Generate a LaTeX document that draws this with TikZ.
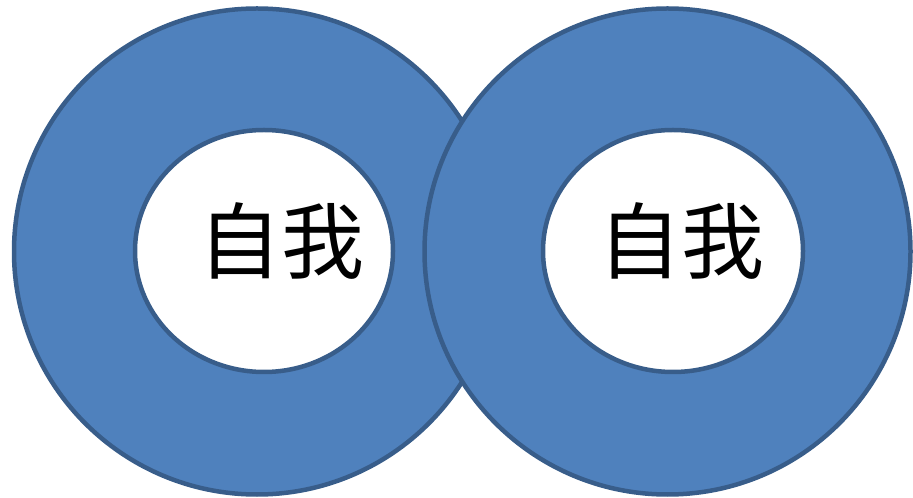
\documentclass[tikz,border=0pt]{standalone}
\usepackage{fontspec}
\newfontfamily\cjk{Noto Sans CJK SC}
\definecolor{ringfill}{HTML}{4F81BD}
\definecolor{ringline}{HTML}{385D8A}
\begin{document}
\begin{tikzpicture}[x=1pt, y=1pt, line width=4.5pt,
    every node/.style={font=\cjk\fontsize{83}{83}\selectfont, inner sep=0pt},
    ring/.style={fill=ringfill, draw=ringline, even odd rule}]
    \useasboundingbox (0,0) rectangle (913,498);
    % left ring
    \filldraw[ring] (257,246.5) circle (243) (264,247) ellipse (129 and 121);
    \node[anchor=base] (selfL) at (281,225.5) {自我};
    % right ring, on top of the left one
    \filldraw[ring] (667.5,246.5) circle (243) (673,247) ellipse (130 and 121);
    \node[anchor=base] (selfR) at (681,225.5) {自我};
\end{tikzpicture}
\end{document}
